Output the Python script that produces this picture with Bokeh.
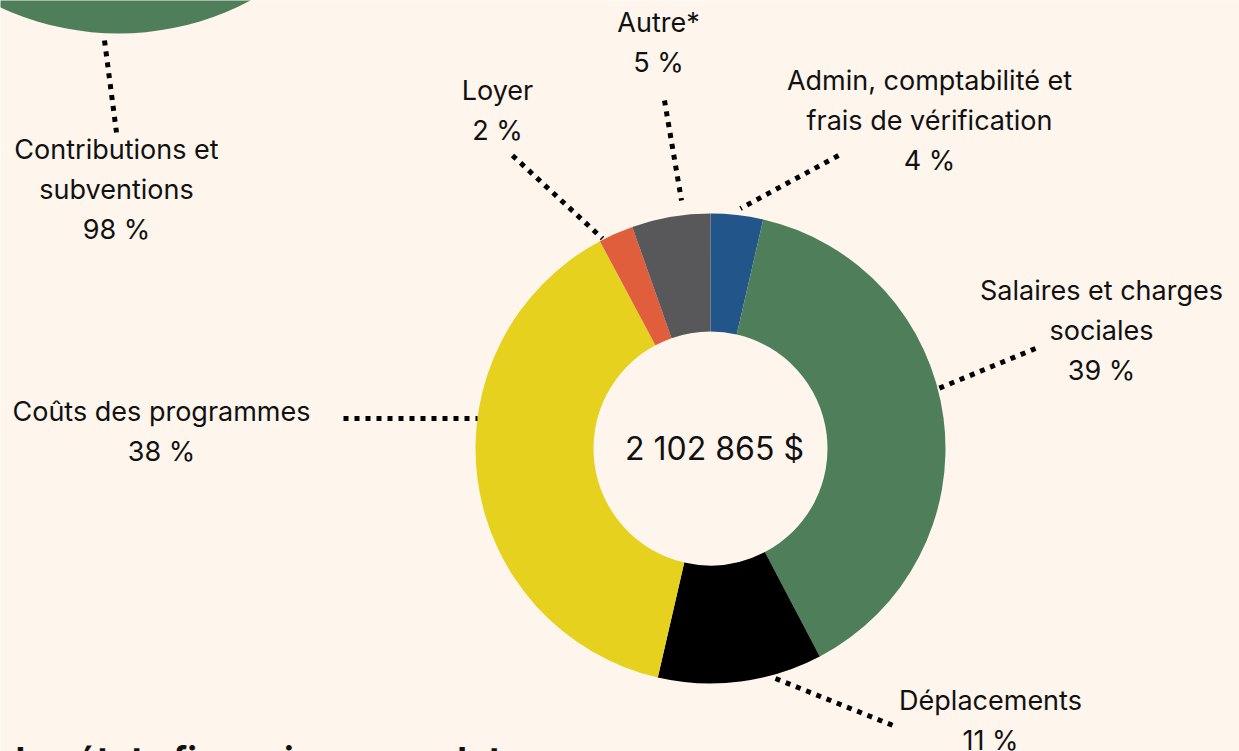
import math
from bokeh.plotting import figure
from bokeh.models import Range1d, ColumnDataSource
from bokeh.core.properties import value
from bokeh.embed import file_html
from bokeh.resources import INLINE

W, H = 1239, 751

# ---- data ----
categories = ["Admin, comptabilité et frais de vérification", "Salaires et charges sociales",
              "Déplacements", "Coûts des programmes", "Loyer", "Autre*"]
shares = [3.6, 38.7, 11.3, 38.6, 2.4, 5.4]
pct_labels = ["4 %", "39 %", "11 %", "38 %", "2 %", "5 %"]
colors = ["#22558A", "#4E7F5A", "#000000", "#E5D11E", "#E05E3C", "#58585A"]
total_label = "2 102 865 $"

revenue_label = ["Contributions et", "subventions", "98 %"]
footer_text = "les états financiers complets"

BG = "#FEF5EC"
FONT = "Inter"

def Y(y):
    return H - y

p = figure(width=W, height=H, x_range=Range1d(0, W), y_range=Range1d(0, H),
           x_axis_type=None, y_axis_type=None, toolbar_location=None,
           output_backend="svg", min_border=0, outline_line_color=None,
           background_fill_color=BG, border_fill_color=BG)
p.grid.visible = False

# revenue circle (top-left, mostly off-canvas)
p.circle(x=[118], y=[Y(-247)], radius=280, fill_color="#4E7F5A", line_color=None)

# donut
cx, cy = 710, Y(448)
starts, ends = [], []
cum = 0.0
tot = sum(shares)
for s in shares:
    a0 = math.pi / 2 - 2 * math.pi * cum / tot
    cum += s
    a1 = math.pi / 2 - 2 * math.pi * cum / tot
    starts.append(a0)
    ends.append(a1)
src = ColumnDataSource(dict(start=starts, end=ends, color=colors, cat=categories))
p.annular_wedge(x=cx, y=cy, inner_radius=117, outer_radius=235,
                start_angle="start", end_angle="end", direction="clock",
                fill_color="color", line_color=None, source=src)

# leader lines (dotted)
leaders = [
    ((104, 40), (116, 132)),
    ((664, 100), (681, 200)),
    ((512, 155), (602, 238)),
    ((838, 155), (740, 208)),
    ((1035, 348), (938, 388)),
    ((343, 418), (477, 418)),
    ((775, 678), (895, 726)),
]
for (x0, y0), (x1, y1) in leaders:
    p.line([x0, x1], [Y(y0), Y(y1)], line_color="black", line_width=5,
           line_dash="5 6", line_cap="butt")

def label(lines, x, y_first, size=27, step=40):
    for i, t in enumerate(lines):
        p.text(x=[x], y=[Y(y_first + i * step)], text=[t], text_align="center",
               text_baseline="middle", text_font=value(FONT),
               text_font_size=f"{size}px", text_color="#111111")

label(revenue_label, 116, 149)
label(["Autre*", pct_labels[5]], 658, 22)
label(["Loyer", pct_labels[4]], 497, 90)
label(["Admin, comptabilité et", "frais de vérification", pct_labels[0]], 929, 80)
label(["Salaires et charges", "sociales", pct_labels[1]], 1101, 290)
label(["Coûts des programmes", pct_labels[3]], 161, 411)
label(["Déplacements", pct_labels[2]], 990, 700)

p.text(x=[714], y=[Y(448)], text=[total_label], text_align="center",
       text_baseline="middle", text_font=value(FONT), text_font_size="32px",
       text_color="#111111")

p.text(x=[15], y=[Y(759)], text=[footer_text], text_align="left",
       text_baseline="alphabetic", text_font=value(FONT), text_font_size="36px",
       text_font_style="bold", text_color="#111111")

open("out.html", "w").write(file_html(p, INLINE))
